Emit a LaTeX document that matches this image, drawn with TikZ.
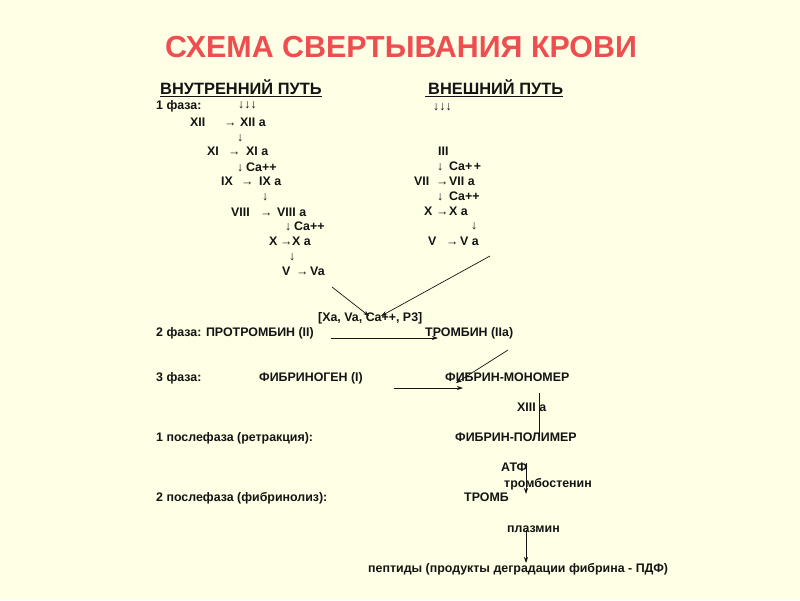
\documentclass[tikz,border=0pt]{standalone}
\usepackage{fontspec}
\setmainfont{Liberation Sans}
\usetikzlibrary{arrows.meta}
\definecolor{bgc}{RGB}{255,255,229}
\definecolor{titlec}{RGB}{238,78,80}
\definecolor{inkc}{RGB}{20,20,20}
\begin{document}
\begin{tikzpicture}[x=1pt,y=-1pt,
  t/.style={font=\bfseries\fontsize{12.4}{14}\selectfont, anchor=base west, inner sep=0pt, text=inkc},
  hd/.style={font=\bfseries\fontsize{16.4}{19}\selectfont, anchor=base west, inner sep=0pt, text=inkc},
  conn/.style={draw=inkc, line width=0.7pt, -{Stealth[length=6pt,width=4pt]}},
  plainconn/.style={draw=inkc, line width=0.7pt}]
\fill[bgc] (0,0) rectangle (800,600);
\useasboundingbox (0,0) rectangle (800,600);
% title
\node[font=\bfseries\fontsize{30.4}{34}\selectfont, text=titlec, inner sep=0pt] (title) at (401,47) {СХЕМА СВЕРТЫВАНИЯ КРОВИ};
% headings
\node[hd] (h1) at (160,94) {ВНУТРЕННИЙ ПУТЬ};
\node[hd] (h2) at (428,94) {ВНЕШНИЙ ПУТЬ};
\draw[plainconn, line width=1pt] ([yshift=-2.5pt]h1.base west) -- ([yshift=-2.5pt]h1.base east);
\draw[plainconn, line width=1pt] ([xshift=-3pt,yshift=-2.5pt]h2.base west) -- ([yshift=-2.5pt]h2.base east);
% internal pathway
\node[t] (f1) at (156,109) {1 фаза:};
\node[t] (a0) at (238,108) {↓↓↓};
\node[t] (n12) at (190,126) {XII};
\node[t] (r12) at (224,126) {→};
\node[t] (n12a) at (240,126) {XII a};
\node[t] (d12) at (237,141) {↓};
\node[t] (n11) at (207,155) {XI};
\node[t] (r11) at (228,155) {→};
\node[t] (n11a) at (246,155) {XI a};
\node[t] (d11) at (237,171) {↓};
\node[t] (c11) at (246,171) {Ca++};
\node[t] (n9) at (221,185) {IX};
\node[t] (r9) at (241,185) {→};
\node[t] (n9a) at (259,185) {IX a};
\node[t] (d9) at (262,200) {↓};
\node[t] (n8) at (231,216) {VIII};
\node[t] (r8) at (260,216) {→};
\node[t] (n8a) at (277,216) {VIII a};
\node[t] (d8) at (285,230) {↓};
\node[t] (c8) at (294,230) {Ca++};
\node[t] (n10) at (269,245) {X};
\node[t] (r10) at (280,245) {→};
\node[t] (n10a) at (292,245) {X a};
\node[t] (d10) at (289,260) {↓};
\node[t] (n5) at (282,275) {V};
\node[t] (r5) at (296,275) {→};
\node[t] (n5a) at (310,275) {Va};
% external pathway
\node[t] (b0) at (433,110) {↓↓↓};
\node[t] (e3) at (438,155) {III};
\node[t] (ed3) at (437,170) {↓};
\node[t] (ec3) at (449,170) {Ca+\kern1.5pt+};
\node[t] (e7) at (414,185) {VII};
\node[t] (er7) at (436,185) {→};
\node[t] (e7a) at (449,185) {VII a};
\node[t] (ed7) at (437,200) {↓};
\node[t] (ec7) at (449,200) {Ca++};
\node[t] (e10) at (424,215) {X};
\node[t] (er10) at (436,215) {→};
\node[t] (e10a) at (449,215) {X a};
\node[t] (ed10) at (471,229) {↓};
\node[t] (e5) at (428,245) {V};
\node[t] (er5) at (446,245) {→};
\node[t] (e5a) at (460,245) {V a};
% phases
\node[t] (cplx) at (318,321) {[Xa, Va, Ca++, P3]};
\node[t] (f2) at (156,336) {2 фаза: ПРОТРОМБИН (II)};
\node[t] (thr) at (425,336) {ТРОМБИН (IIa)};
\node[t] (f3) at (156,381) {3 фаза:};
\node[t] (fbg) at (259,381) {ФИБРИНОГЕН (I)};
\node[t] (mono) at (445,381) {ФИБРИН-МОНОМЕР};
\node[t] (x13) at (517,411) {XIII a};
\node[t] (p1) at (156,441) {1 послефаза (ретракция):};
\node[t] (poly) at (455,441) {ФИБРИН-ПОЛИМЕР};
\node[t] (atf) at (501,471) {АТФ};
\node[t] (tst) at (504,487) {тромбостенин};
\node[t] (tromb) at (464,501) {ТРОМБ};
\node[t] (p2) at (156,501) {2 послефаза (фибринолиз):};
\node[t] (plz) at (507,532) {плазмин};
\node[t] (pdf) at (368,572) {пептиды (продукты деградации фибрина - ПДФ)};
% connector endpoints
\coordinate (l1s) at (332,287);
\coordinate (l1e) at (369,316);
\coordinate (l2s) at (490,256);
\coordinate (l2e) at (381,316);
\coordinate (h1s) at (331,338);
\coordinate (h1e) at (438,338);
\coordinate (h2s) at (394,388);
\coordinate (h2e) at (463,388);
\coordinate (dgs) at (508,350);
\coordinate (dge) at (456,383);
\coordinate (v1s) at (539,393);
\coordinate (v1e) at (539,437);
\coordinate (v2s) at (526,463);
\coordinate (v2e) at (526,494);
\coordinate (v3s) at (526,530);
\coordinate (v3e) at (526,563);
\draw[conn] (l1s) -- (l1e);
\draw[conn] (l2s) -- (l2e);
\draw[conn] (h1s) -- (h1e);
\draw[conn] (h2s) -- (h2e);
\draw[conn] (dgs) -- (dge);
\draw[plainconn] (v1s) -- (v1e);
\draw[conn] (v2s) -- (v2e);
\draw[conn] (v3s) -- (v3e);
\end{tikzpicture}
\end{document}
